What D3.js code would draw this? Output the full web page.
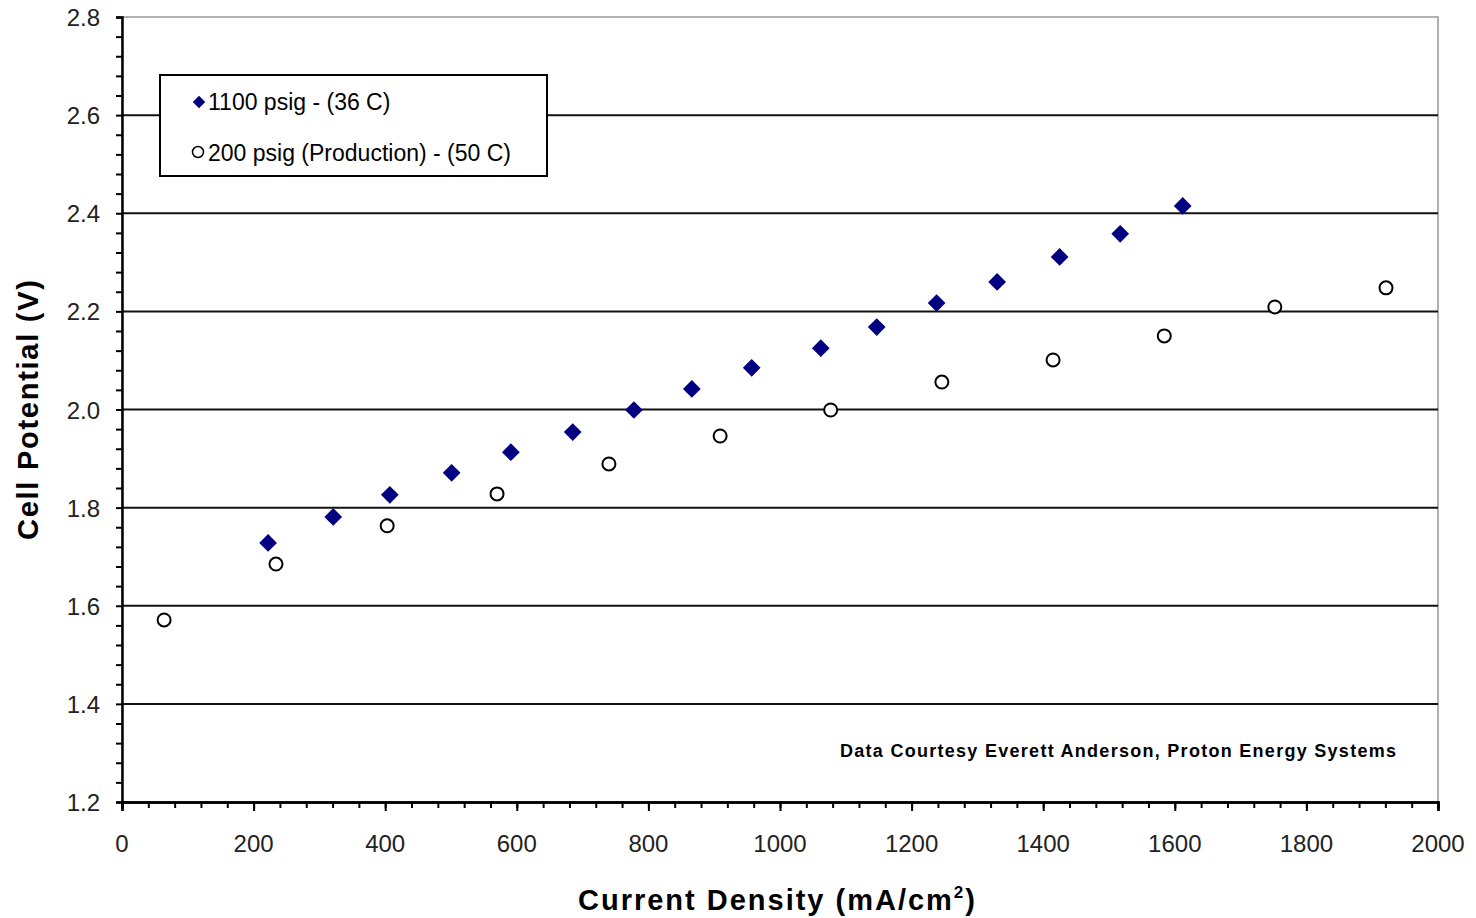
<!DOCTYPE html>
<html>
<head>
<meta charset="utf-8">
<script src="https://cdn.jsdelivr.net/npm/d3@7"></script>
<style>
	body { margin: 0; background: #fff; }
	svg { display: block; }
	.tickLabel { font-family: Arial, "Liberation Sans", sans-serif; font-size: 24px; fill: #222; }
	.axisTitle { font-family: Arial, "Liberation Sans", sans-serif; font-size: 29px; font-weight: bold; fill: #000; }
</style>
</head>
<body>
<svg id="chart" width="1476" height="918"></svg>
<script>
"use strict";
//series: current density (mA/cm2) and cell potential (V)
var highPressureX = [222, 321, 407, 501, 591, 685, 778, 866, 957, 1062, 1147, 1238, 1330, 1425, 1517, 1612];
var highPressureY = [1.728, 1.781, 1.826, 1.871, 1.913, 1.954, 1.999, 2.042, 2.085, 2.125, 2.168, 2.217, 2.260, 2.311, 2.358, 2.415];
var productionX = [64, 234, 403, 570, 740, 909, 1077, 1246, 1415, 1584, 1752, 1921];
var productionY = [1.571, 1.685, 1.763, 1.828, 1.889, 1.946, 1.999, 2.056, 2.101, 2.150, 2.209, 2.248];
var seriesNames = ['1100 psig - (36  C)', '200 psig (Production) - (50 C)'];
var xTicks = [0, 200, 400, 600, 800, 1000, 1200, 1400, 1600, 1800, 2000];
var yTicks = [1.2, 1.4, 1.6, 1.8, 2.0, 2.2, 2.4, 2.6, 2.8];

var plotLeft = 122, plotRight = 1438, plotTop = 17, plotBottom = 802;
var svg = d3.select('#chart');

var x = d3.scaleLinear().domain([0, 2000]).range([plotLeft, plotRight]);
var y = d3.scaleLinear().domain([1.2, 2.8]).range([plotBottom, plotTop]);

//plot border (gray top and right)
svg.append('rect')
	.attr('x', plotLeft).attr('y', plotTop)
	.attr('width', plotRight - plotLeft).attr('height', plotBottom - plotTop)
	.style('fill', 'none')
	.style('stroke', '#999')
	.style('stroke-width', 1.5);

//horizontal gridlines
svg.append('g').selectAll('line')
	.data(yTicks.filter(function(d){ return d > 1.2 && d < 2.8; }))
	.enter().append('line')
	.attr('x1', plotLeft).attr('x2', plotRight)
	.attr('y1', function(d){ return y(d); })
	.attr('y2', function(d){ return y(d); })
	.style('stroke', '#111')
	.style('stroke-width', 2);

//minor ticks
var yMinor = d3.range(0, 41).map(function(i){ return 1.2 + i * 0.04; });
var xMinor = d3.range(0, 51).map(function(i){ return i * 40; });

var yAxis = svg.append('g')
	.attr('transform', 'translate(' + plotLeft + ',0)')
	.call(d3.axisLeft(y).tickValues(yMinor).tickSize(6).tickFormat(''));
var xAxis = svg.append('g')
	.attr('transform', 'translate(0,' + plotBottom + ')')
	.call(d3.axisBottom(x).tickValues(xMinor).tickSize(6).tickFormat(''));
var xMajor = svg.append('g')
	.attr('transform', 'translate(0,' + plotBottom + ')')
	.call(d3.axisBottom(x).tickValues(xTicks).tickSize(9).tickFormat(''));
[yAxis, xAxis, xMajor].forEach(function(a){
	a.selectAll('path').style('stroke', '#000').style('stroke-width', 2.5);
	a.selectAll('line').style('stroke', '#000').style('stroke-width', 2);
});

//tick labels
svg.append('g').selectAll('text')
	.data(yTicks).enter().append('text')
	.attr('class', 'tickLabel')
	.attr('x', 100)
	.attr('y', function(d){ return y(d) + 9; })
	.attr('text-anchor', 'end')
	.text(function(d){ return d.toFixed(1); });
svg.append('g').selectAll('text')
	.data(xTicks).enter().append('text')
	.attr('class', 'tickLabel')
	.attr('x', function(d){ return x(d); })
	.attr('y', 852)
	.attr('text-anchor', 'middle')
	.text(function(d){ return d; });

//axis titles
svg.append('text')
	.attr('class', 'axisTitle')
	.attr('x', 578).attr('y', 910)
	.attr('textLength', 397)
	.html('Current Density (mA/cm<tspan dy="-12" font-size="17">2</tspan><tspan dy="12">)</tspan>');
svg.append('text')
	.attr('class', 'axisTitle')
	.attr('transform', 'translate(38,540) rotate(-90)')
	.attr('textLength', 260)
	.text('Cell Potential (V)');

//credit
svg.append('text')
	.attr('x', 840).attr('y', 757)
	.attr('textLength', 556)
	.style('font-family', 'Arial, "Liberation Sans", sans-serif')
	.style('font-size', '18px')
	.style('font-weight', 'bold')
	.text('Data Courtesy Everett Anderson, Proton Energy Systems');

var diamond = d3.symbol().type(d3.symbolDiamond2).size(200);

//1100 psig series
svg.append('g').selectAll('path')
	.data(highPressureX.map(function(d, i){ return {x: d, y: highPressureY[i]}; }))
	.enter().append('path')
	.attr('d', diamond)
	.attr('transform', function(d){ return 'translate(' + x(d.x) + ',' + y(d.y) + ')'; })
	.style('fill', '#000080');

//200 psig series
svg.append('g').selectAll('circle')
	.data(productionX.map(function(d, i){ return {x: d, y: productionY[i]}; }))
	.enter().append('circle')
	.attr('cx', function(d){ return x(d.x); })
	.attr('cy', function(d){ return y(d.y); })
	.attr('r', 6.5)
	.style('fill', '#fff')
	.style('stroke', '#000')
	.style('stroke-width', 2);

//legend
var legend = svg.append('g');
legend.append('rect')
	.attr('x', 160).attr('y', 75)
	.attr('width', 387).attr('height', 101)
	.style('fill', '#fff')
	.style('stroke', '#000')
	.style('stroke-width', 2);
legend.append('path')
	.attr('d', d3.symbol().type(d3.symbolDiamond2).size(100))
	.attr('transform', 'translate(199,102)')
	.style('fill', '#000080');
legend.append('circle')
	.attr('cx', 198).attr('cy', 152).attr('r', 5.5)
	.style('fill', '#fff').style('stroke', '#000').style('stroke-width', 1.5);
legend.selectAll('text')
	.data(seriesNames).enter().append('text')
	.attr('x', 208)
	.attr('y', function(d, i){ return 110 + i * 51; })
	.style('font-family', 'Arial, "Liberation Sans", sans-serif')
	.style('font-size', '23px')
	.style('fill', '#000')
	.text(function(d){ return d; });
</script>
</body>
</html>
